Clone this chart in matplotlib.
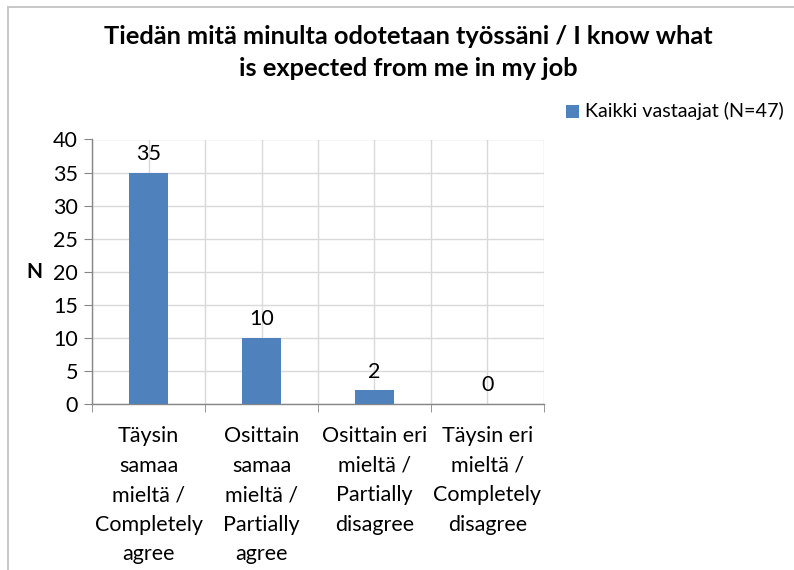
import matplotlib
matplotlib.use("Agg")
import matplotlib.pyplot as plt
from matplotlib.patches import Rectangle

plt.rcParams['font.family'] = ['Lato', 'DejaVu Sans']

categories = [
    "Täysin\nsamaa\nmieltä /\nCompletely\nagree",
    "Osittain\nsamaa\nmieltä /\nPartially\nagree",
    "Osittain eri\nmieltä /\nPartially\ndisagree",
    "Täysin eri\nmieltä /\nCompletely\ndisagree",
]
values = [35, 10, 2, 0]
series_name = "Kaikki vastaajat (N=47)"
title_lines = ["Tiedän mitä minulta odotetaan työssäni / I know what",
               "is expected from me in my job"]
yticks = [0, 5, 10, 15, 20, 25, 30, 35, 40]

W, H = 794, 570
fig = plt.figure(figsize=(W / 100, H / 100), dpi=100)

# chart frame
fig.patches.append(Rectangle((8 / W, -0.05), 1.1, (H - 7) / H + 0.05,
                             transform=fig.transFigure, fill=False,
                             edgecolor="#c3c3c3", linewidth=1.3))

bar_color = "#4f81bd"
fs = 15.5
ax = fig.add_axes([92 / W, (H - 403.7) / H, 452 / W, 264.2 / H])
x = list(range(len(categories)))
ax.bar(x, values, width=0.345, color=bar_color, zorder=3, label=series_name)

ax.set_xlim(-0.5, len(categories) - 0.5)
ax.set_ylim(0, 40)
ax.set_yticks(yticks)
ax.set_xticks(x)
ax.set_xticklabels(categories, fontsize=fs, linespacing=1.6)
ax.set_xticks([i - 0.5 for i in range(len(categories) + 1)], minor=True)
ax.tick_params(axis="x", which="major", length=0, pad=16)
ax.tick_params(axis="x", which="minor", length=6, color="#868686", direction="out")
ax.tick_params(axis="y", length=6, color="#868686", labelsize=fs, pad=4)
ax.grid(True, which="both", color="#d9d9d9", linewidth=1, zorder=0)
for s in ["top", "right"]:
    ax.spines[s].set_visible(False)
for s in ["left", "bottom"]:
    ax.spines[s].set_color("#868686")
    ax.spines[s].set_linewidth(1)
ax.set_axisbelow(True)

for xi, v in zip(x, values):
    ax.annotate(f"{v}", (xi, v), xytext=(0, 6), textcoords="offset points",
                ha="center", va="bottom", fontsize=fs)

ax.set_ylabel("N", rotation=0, fontsize=15, fontweight="bold", va="center")
ax.yaxis.set_label_coords(-0.128, 0.5)

fig.text(408 / W, 1 - 37 / H, title_lines[0], ha="center", va="center",
         fontsize=18.3, fontweight="bold")
fig.text(408 / W, 1 - 68 / H, title_lines[1], ha="center", va="center",
         fontsize=18.3, fontweight="bold")

# legend entry
fig.patches.append(Rectangle((566 / W, 1 - 117.5 / H), 12.5 / W, 12.5 / H,
                             transform=fig.transFigure, facecolor=bar_color,
                             edgecolor="none"))
fig.text(585 / W, 1 - 111 / H, series_name, ha="left", va="center",
         fontsize=14.2)

fig.savefig("out.png", dpi=100)
